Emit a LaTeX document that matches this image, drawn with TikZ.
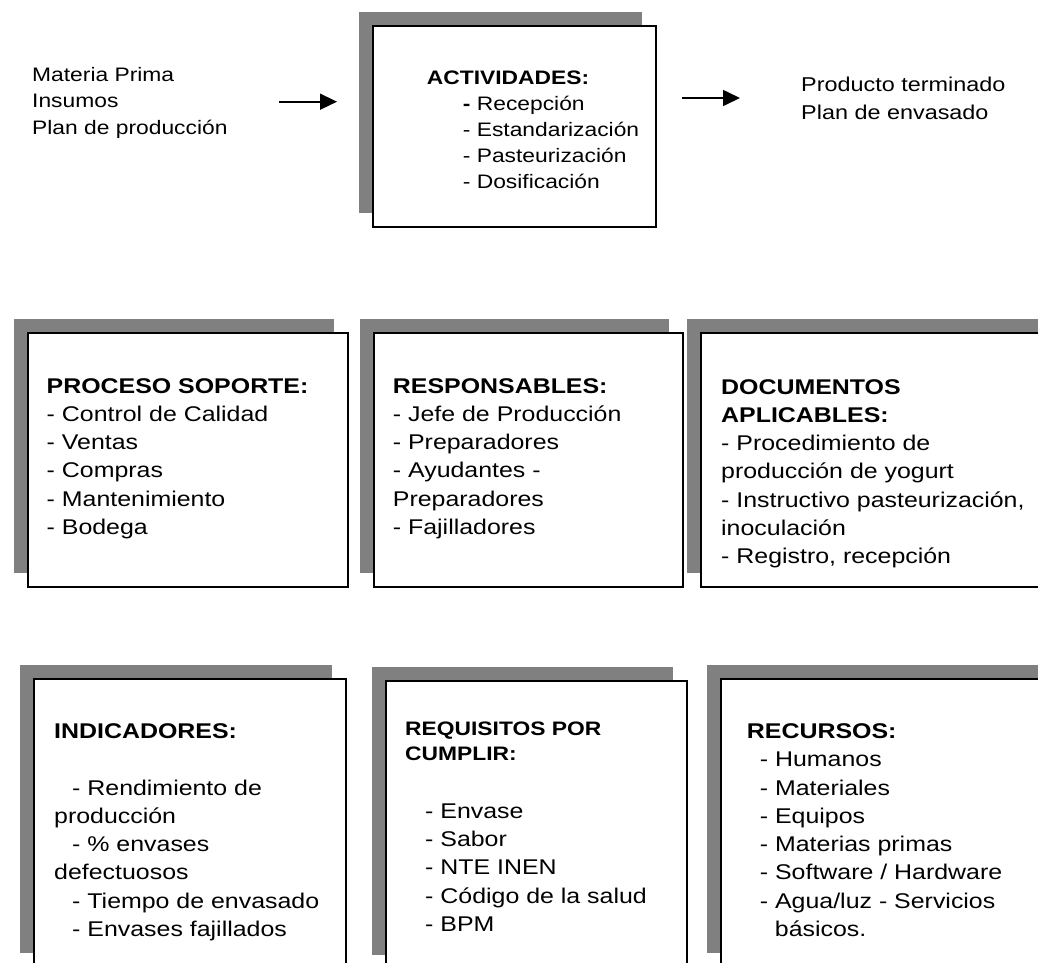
\documentclass[tikz,border=0pt]{standalone}
\usepackage{fontspec}
\setmainfont{Liberation Sans}[FakeStretch=1.17]
\usepackage{tikz}
\definecolor{ShadowGray}{HTML}{808080}
\usetikzlibrary{arrows.meta, shadows}

\begin{document}
\begin{tikzpicture}[
  x=1pt, y=-1pt,
  panel/.style={draw=black, line width=1.6pt, fill=white, anchor=north west, inner sep=0pt, drop shadow={shadow xshift=-14pt, shadow yshift=14pt, fill=ShadowGray, opacity=1}},
  toptext/.style={anchor=base west, inner sep=0pt, align=left, font=\fontsize{19.5}{26.5}\selectfont},
  boxtext/.style={anchor=base west, inner sep=0pt, align=left, font=\fontsize{21.3}{28.3}\selectfont},
  arrow/.style={-{Triangle[length=17pt, width=16pt]}, line width=1.6pt}
]
  \useasboundingbox (0,0) rectangle (1038,962);
  \clip (0,0) rectangle (1038,962);
  \fill[white] (0,0) rectangle (1038,962);

  \node[toptext] (inputs) at (32,134) {Materia Prima\\Insumos\\Plan de producción};
  \node[panel, minimum width=283pt, minimum height=201pt] (act) at (372,25) {};
  \node[toptext, font=\fontsize{19.5}{26}\selectfont] (act-text) at (426.7,188.5) {\textbf{ACTIVIDADES:}\\\hspace*{36pt}\textbf{-} Recepción\\\hspace*{36pt}- Estandarización\\\hspace*{36pt}- Pasteurización\\\hspace*{36pt}- Dosificación};
  \node[toptext, font=\fontsize{20}{28}\selectfont] (outputs) at (801,119.5) {Producto terminado\\Plan de envasado};

  \coordinate (in-start) at (279,101.7);
  \coordinate (in-end) at (337,101.7);
  \coordinate (out-start) at (682,98);
  \coordinate (out-end) at (740,98);
  \draw[arrow] (in-start) -- (in-end);
  \draw[arrow] (out-start) -- (out-end);

  \node[panel, minimum width=320pt, minimum height=254pt] (soporte) at (27,332) {};
  \node[panel, minimum width=309pt, minimum height=254pt] (resp) at (373,332) {};
  \node[panel, minimum width=400pt, minimum height=254pt] (docs) at (700,332) {};
  \node[boxtext] (soporte-text) at (46.5,534.5) {\textbf{PROCESO SOPORTE:}\\- Control de Calidad\\- Ventas\\- Compras\\- Mantenimiento\\- Bodega};
  \node[boxtext] (resp-text) at (392.7,534.5) {\textbf{RESPONSABLES:}\\- Jefe de Producción\\- Preparadores\\- Ayudantes -\\Preparadores\\- Fajilladores};
  \node[boxtext] (docs-text) at (721,563.8) {\textbf{DOCUMENTOS}\\\textbf{APLICABLES:}\\- Procedimiento de\\producción de yogurt\\- Instructivo pasteurización,\\inoculación\\- Registro, recepción};

  \node[panel, minimum width=312pt, minimum height=288pt] (ind) at (33,678) {};
  \node[panel, minimum width=301pt, minimum height=288pt] (req) at (385,680) {};
  \node[panel, minimum width=400pt, minimum height=288pt] (rec) at (720,678) {};
  \node[boxtext] (ind-text) at (54,936.5) {\textbf{INDICADORES:}\\[28.3pt]\hspace*{18pt}- Rendimiento de\\producción\\\hspace*{18pt}- \% envases\\defectuosos\\\hspace*{18pt}- Tiempo de envasado\\\hspace*{18pt}- Envases fajillados};
  \node[toptext, font=\fontsize{19.5}{25}\selectfont] (req-head) at (405,760) {\textbf{REQUISITOS POR}\\\textbf{CUMPLIR:}};
  \node[boxtext] (req-text) at (425,931.5) {- Envase\\- Sabor\\- NTE INEN\\- Código de la salud\\- BPM};
  \node[boxtext] (rec-text) at (746.7,936.5) {\textbf{RECURSOS:}\\\hspace*{13pt}- Humanos\\\hspace*{13pt}- Materiales\\\hspace*{13pt}- Equipos\\\hspace*{13pt}- Materias primas\\\hspace*{13pt}- Software / Hardware\\\hspace*{13pt}- Agua/luz - Servicios\\\hspace*{28pt}básicos.};
\end{tikzpicture}
\end{document}
